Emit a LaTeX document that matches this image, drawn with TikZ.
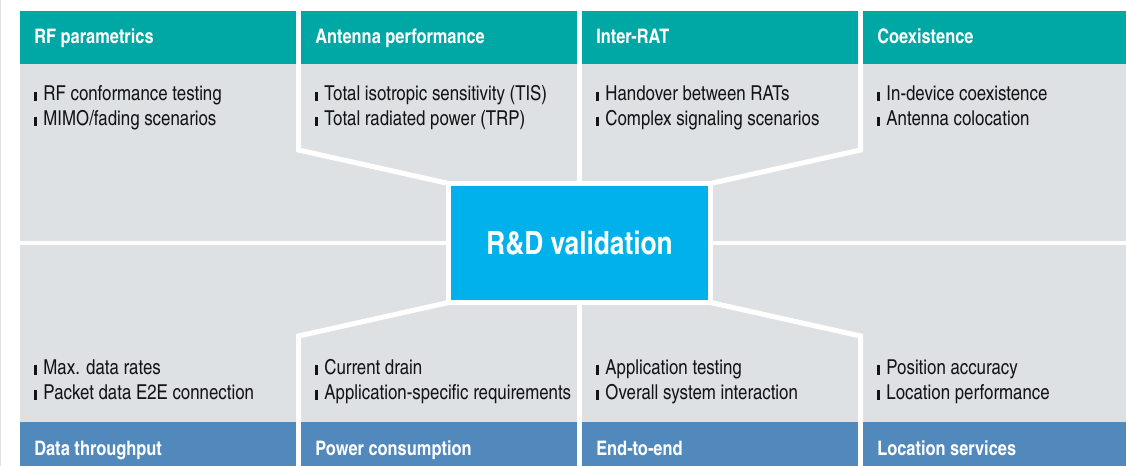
\documentclass[tikz,border=0pt]{standalone}
\usepackage{fontspec}
\setmainfont{texgyreheroscn}[Extension=.otf, UprightFont=*-regular, BoldFont=*-bold]
\definecolor{hdrteal}{RGB}{0,168,165}
\definecolor{panelgray}{RGB}{221,225,228}
\definecolor{ftrblue}{RGB}{82,137,189}
\definecolor{hubcyan}{RGB}{0,177,235}
\definecolor{ink}{RGB}{20,20,20}
\newcommand\bulletbar{\textcolor{ink}{\rule{2.4pt}{7pt}}\hspace{4.5pt}}
\begin{document}
\begin{tikzpicture}[x=0.75pt, y=-0.75pt,
  title/.style={anchor=base west, inner sep=0pt, text=white, font=\fontsize{15}{18}\selectfont\bfseries},
  item/.style={anchor=base west, inner sep=0pt, text=ink, font=\fontsize{15.4}{18}\selectfont},
  sepline/.style={draw=white, line width=3.75pt, line cap=butt, line join=miter},
  hub/.style={fill=hubcyan, draw=white, line width=3.75pt, outer sep=0pt, inner sep=0pt,
    minimum width=196.5pt, minimum height=89.25pt, text=white,
    font=\fontsize{24}{28}\selectfont\bfseries}]
\useasboundingbox (0,0) rectangle (1126,466);
% page edge
\fill[panelgray] (0,0) rectangle (1,466);
% grey panel field
\fill[panelgray] (20,64) rectangle (1126,422);
% header and footer bands
\foreach \l/\r in {20/296, 301/577, 582/858, 863/1126} {
  \fill[hdrteal] (\l,11) rectangle (\r,64);
  \fill[ftrblue] (\l,422) rectangle (\r,466);
}
% central hub
\node[hub] (hub) at (579.5,243) {R\&D validation};
% white separators between the panels
\draw[sepline] (298.5,64) -- (298.5,150) -- (hub.north west);
\draw[sepline] (579.5,64) -- (hub.north);
\draw[sepline] (860.5,64) -- (860.5,150) -- (hub.north east);
\draw[sepline] (298.5,422) -- (298.5,336) -- (hub.south west);
\draw[sepline] (579.5,422) -- (hub.south);
\draw[sepline] (860.5,422) -- (860.5,336) -- (hub.south east);
\draw[sepline, line width=3pt] (20,243) -- (hub.west);
\draw[sepline, line width=3pt] (hub.east) -- (1126,243);
% redraw hub border on top of separator ends
\node[hub] at (579.5,243) {R\&D validation};
% top headers
\node[title] (t1) at (34,44) {RF parametrics};
\node[title] (t2) at (315,44) {Antenna performance};
\node[title] (t3) at (596,44) {Inter-RAT};
\node[title] (t4) at (877,44) {Coexistence};
% top items
\node[item] (a1) at (34,101) {\bulletbar RF conformance testing};
\node[item] (a2) at (34,126) {\bulletbar MIMO/fading scenarios};
\node[item] (b1) at (315,101) {\bulletbar Total isotropic sensitivity (TIS)};
\node[item] (b2) at (315,126) {\bulletbar Total radiated power (TRP)};
\node[item] (c1) at (596,101) {\bulletbar Handover between RATs};
\node[item] (c2) at (596,126) {\bulletbar Complex signaling scenarios};
\node[item] (d1) at (877,101) {\bulletbar In-device coexistence};
\node[item] (d2) at (877,126) {\bulletbar Antenna colocation};
% bottom items
\node[item] (e1) at (34,374.5) {\bulletbar Max. data rates};
\node[item] (e2) at (34,399.5) {\bulletbar Packet data E2E connection};
\node[item] (f1) at (315,374.5) {\bulletbar Current drain};
\node[item] (f2) at (315,399.5) {\bulletbar Application-specific requirements};
\node[item] (g1) at (596,374.5) {\bulletbar Application testing};
\node[item] (g2) at (596,399.5) {\bulletbar Overall system interaction};
\node[item] (h1) at (877,374.5) {\bulletbar Position accuracy};
\node[item] (h2) at (877,399.5) {\bulletbar Location performance};
% bottom headers
\node[title] (u1) at (34,455) {Data throughput};
\node[title] (u2) at (315,455) {Power consumption};
\node[title] (u3) at (596,455) {End-to-end};
\node[title] (u4) at (877,455) {Location services};
\end{tikzpicture}
\end{document}
